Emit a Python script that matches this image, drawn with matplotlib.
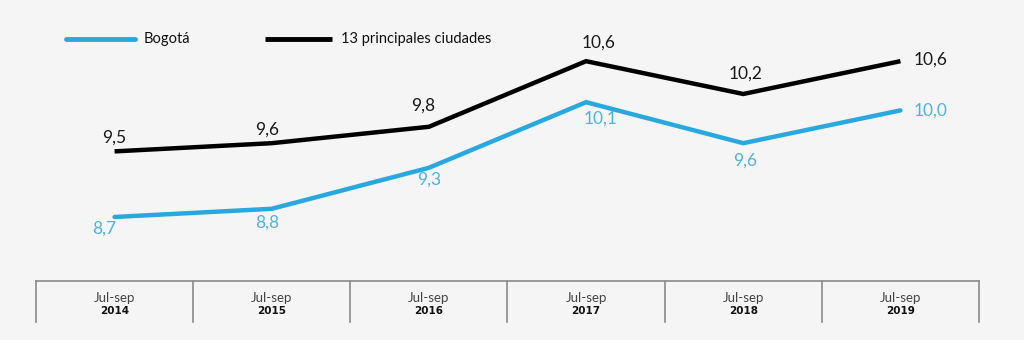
import matplotlib
matplotlib.use('Agg')
import matplotlib.pyplot as plt
import numpy as np

periods = ['Jul-sep', 'Jul-sep', 'Jul-sep', 'Jul-sep', 'Jul-sep', 'Jul-sep']
years = ['2014', '2015', '2016', '2017', '2018', '2019']
bogota = [8.7, 8.8, 9.3, 10.1, 9.6, 10.0]
ciudades = [9.5, 9.6, 9.8, 10.6, 10.2, 10.6]

BLUE = '#29a8e0'
BLUE_TXT = '#4fb3e0'
BG = '#f5f5f5'
GRID = '#8a8a8a'

plt.rcParams['font.family'] = ['Lato', 'DejaVu Sans']

fig = plt.figure(figsize=(10.24, 3.4), dpi=100, facecolor=BG)
ax = fig.add_axes([36 / 1024, 0, (979 - 36) / 1024, 1])
ax.set_facecolor(BG)
ax.set_xlim(-0.5, 5.5)
ax.set_ylim(7.2, 11.346)
ax.axis('off')

x = np.arange(len(years))
ax.plot(x, ciudades, color='black', lw=3.2, solid_capstyle='butt', solid_joinstyle='miter')
ax.plot(x, bogota, color=BLUE, lw=3.2, solid_capstyle='round', solid_joinstyle='miter')

# label offsets in pixels (dx, dy)
off_c = [(0, 14), (-5, 14), (-6, 21), (12, 19), (2, 20), (30, 2)]
off_b = [(-10, -12), (-5, -14), (0, -12), (14, -16), (2, -17), (30, 0)]
for i in range(len(years)):
    ax.annotate(f'{ciudades[i]:.1f}'.replace('.', ','), (x[i], ciudades[i]),
                xytext=off_c[i], textcoords='offset pixels', ha='center', va='center',
                fontsize=12.5, color='#1a1a1a')
    ax.annotate(f'{bogota[i]:.1f}'.replace('.', ','), (x[i], bogota[i]),
                xytext=off_b[i], textcoords='offset pixels', ha='center', va='center',
                fontsize=12.5, color=BLUE_TXT)

# category box
tr = ax.get_xaxis_transform()
y_top = 1 - 281 / 340
y_bot = 1 - 322 / 340
ax.plot([-0.5, 5.5], [y_top, y_top], color=GRID, lw=1.2, transform=tr, clip_on=False)
for e in np.arange(-0.5, 6.0, 1.0):
    ax.plot([e, e], [y_top, y_bot], color=GRID, lw=1.2, transform=tr, clip_on=False)
for i in range(len(years)):
    ax.text(x[i], 1 - 298 / 340, periods[i], transform=tr, ha='center', va='center',
            fontsize=9.5, color='#444444')
    ax.text(x[i], 1 - 311 / 340, years[i], transform=tr, ha='center', va='center',
            fontsize=7.5, fontweight='bold', color='#111111', family='DejaVu Sans')

# legend
fig.add_artist(plt.Line2D([66 / 1024, 135 / 1024], [1 - 39 / 340] * 2, color=BLUE, lw=3.5,
                          solid_capstyle='round'))
fig.text(144 / 1024, 1 - 39 / 340, 'Bogotá', ha='left', va='center', fontsize=10.5, color='#111111')
fig.add_artist(plt.Line2D([265 / 1024, 332 / 1024], [1 - 39 / 340] * 2, color='black', lw=3.5,
                          solid_capstyle='butt'))
fig.text(341 / 1024, 1 - 39 / 340, '13 principales ciudades', ha='left', va='center',
         fontsize=10.5, color='#111111')

fig.savefig('out.png', dpi=100, facecolor=BG)
